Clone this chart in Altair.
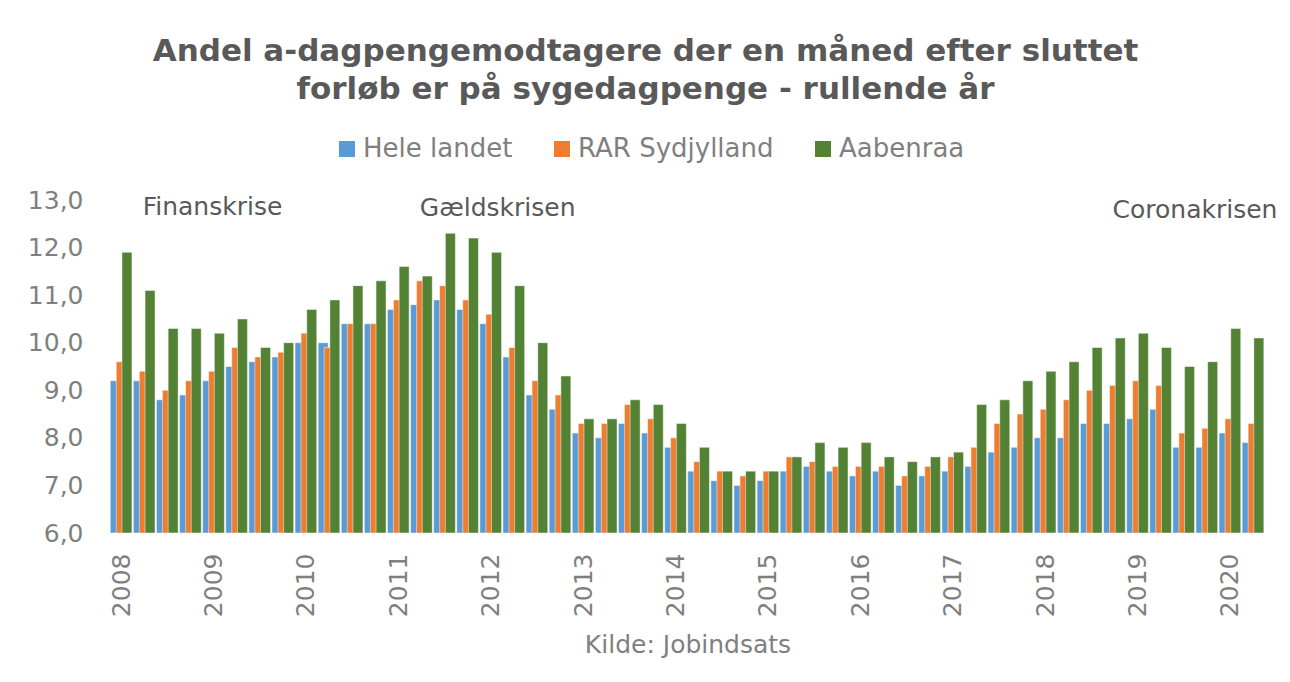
import altair as alt
import pandas as pd

years = list(range(2008, 2021))
quarters_per_year = ["K1", "K2", "K3", "K4"]
n_quarters = 50

hele_landet = [9.2, 9.2, 8.8, 8.9, 9.2, 9.5, 9.6, 9.7, 10.0, 10.0,
               10.4, 10.4, 10.7, 10.8, 10.9, 10.7, 10.4, 9.7, 8.9, 8.6,
               8.1, 8.0, 8.3, 8.1, 7.8, 7.3, 7.1, 7.0, 7.1, 7.3,
               7.4, 7.3, 7.2, 7.3, 7.0, 7.2, 7.3, 7.4, 7.7, 7.8,
               8.0, 8.0, 8.3, 8.3, 8.4, 8.6, 7.8, 7.8, 8.1, 7.9]
rar_sydjylland = [9.6, 9.4, 9.0, 9.2, 9.4, 9.9, 9.7, 9.8, 10.2, 9.9,
                  10.4, 10.4, 10.9, 11.3, 11.2, 10.9, 10.6, 9.9, 9.2, 8.9,
                  8.3, 8.3, 8.7, 8.4, 8.0, 7.5, 7.3, 7.2, 7.3, 7.6,
                  7.5, 7.4, 7.4, 7.4, 7.2, 7.4, 7.6, 7.8, 8.3, 8.5,
                  8.6, 8.8, 9.0, 9.1, 9.2, 9.1, 8.1, 8.2, 8.4, 8.3]
aabenraa = [11.9, 11.1, 10.3, 10.3, 10.2, 10.5, 9.9, 10.0, 10.7, 10.9,
            11.2, 11.3, 11.6, 11.4, 12.3, 12.2, 11.9, 11.2, 10.0, 9.3,
            8.4, 8.4, 8.8, 8.7, 8.3, 7.8, 7.3, 7.3, 7.3, 7.6,
            7.9, 7.8, 7.9, 7.6, 7.5, 7.6, 7.7, 8.7, 8.8, 9.2,
            9.4, 9.6, 9.9, 10.1, 10.2, 9.9, 9.5, 9.6, 10.3, 10.1]

series_names = ["Hele landet", "RAR Sydjylland", "Aabenraa"]
series_colors = ["#5B9BD5", "#ED7D31", "#548235"]
series_values = [hele_landet, rar_sydjylland, aabenraa]
bar_shift = [-6.3, -0.3, 5.4]

crisis_left_labels = ["Finanskrise", "Gældskrisen"]
crisis_left_quarters = ["2008K2", "2011K2"]
crisis_left_y = [12.85, 12.84]
crisis_right_labels = ["Coronakrisen"]
crisis_right_quarters = ["2020K2"]
crisis_right_y = [12.79]

quarters = [f"{y}{q}" for y in years for q in quarters_per_year][:n_quarters]
year_ticks = [q for q in quarters if q.endswith("K1")]

rows = []
for name, vals in zip(series_names, series_values):
    for q, v in zip(quarters, vals):
        rows.append({"kvartal": q, "serie": name, "andel": v})
df = pd.DataFrame(rows)

ann_left = pd.DataFrame({"kvartal": crisis_left_quarters, "tekst": crisis_left_labels, "y": crisis_left_y})
ann_right = pd.DataFrame({"kvartal": crisis_right_quarters, "tekst": crisis_right_labels, "y": crisis_right_y})

FONT = "DejaVu Sans"
GRAY = "#7F7F7F"

x_enc = alt.X(
    "kvartal:N",
    sort=quarters,
    scale=alt.Scale(domain=quarters, paddingInner=0, paddingOuter=0),
    axis=alt.Axis(
        title="Kilde: Jobindsats",
        values=year_ticks,
        labelExpr="slice(datum.value, 0, 4)",
        labelAngle=-90,
        labelFontSize=25,
        labelColor=GRAY,
        labelPadding=20,
        ticks=False,
        domain=False,
        titleFontSize=25,
        titleFontWeight="normal",
        titleColor=GRAY,
        titlePadding=16,
    ),
)
y_enc = alt.Y(
    "andel:Q",
    scale=alt.Scale(domain=[6, 13], zero=False, nice=False),
    axis=alt.Axis(
        title=None,
        values=[6, 7, 8, 9, 10, 11, 12, 13],
        labelExpr="replace(format(datum.value, '.1f'), '.', ',')",
        labelFontSize=25,
        labelColor=GRAY,
        labelPadding=27,
        grid=False,
        ticks=False,
        domain=False,
    ),
)
color_enc = alt.Color(
    "serie:N",
    scale=alt.Scale(domain=series_names, range=series_colors),
    legend=alt.Legend(
        title=None,
        orient="none",
        direction="horizontal",
        legendX=224,
        legendY=-64,
        symbolType="square",
        symbolSize=256,
        symbolStrokeWidth=0,
        labelFontSize=26,
        labelColor=GRAY,
        labelOffset=3,
        labelLimit=0,
        columnPadding=36,
    ),
)

layers = []
for name, shift in zip(series_names, bar_shift):
    layers.append(
        alt.Chart(df)
        .transform_filter(alt.datum.serie == name)
        .mark_bar(width=10, xOffset=shift, stroke="white", strokeWidth=0.6, strokeOpacity=0.8)
        .encode(x=x_enc, y=y_enc, y2=alt.datum(6), color=color_enc)
    )

ann_l = alt.Chart(ann_left).mark_text(
    align="left", baseline="middle", fontSize=25, color="#595959", font=FONT, dx=-2
).encode(x=alt.X("kvartal:N", sort=quarters), y=alt.Y("y:Q"), text="tekst:N")
ann_r = alt.Chart(ann_right).mark_text(
    align="right", baseline="middle", fontSize=25, color="#595959", font=FONT, dx=24
).encode(x=alt.X("kvartal:N", sort=quarters), y=alt.Y("y:Q"), text="tekst:N")

chart = (
    alt.layer(*layers, ann_l, ann_r)
    .properties(
        width=1155,
        height=333,
        autosize=alt.AutoSizeParams(type="none"),
        padding={"left": 102, "top": 192, "right": 17, "bottom": 141},
        title=alt.TitleParams(
            text=["Andel a-dagpengemodtagere der en måned efter sluttet",
                  "forløb er på sygedagpenge - rullende år"],
            fontSize=31,
            fontWeight="bold",
            color="#595959",
            font=FONT,
            lineHeight=38,
            anchor="middle",
            dx=-42,
            offset=30,
        ),
    )
    .configure(font=FONT)
    .configure_view(stroke=None)
)

chart.save("out.html", embed_options={"renderer": "svg", "actions": False})
